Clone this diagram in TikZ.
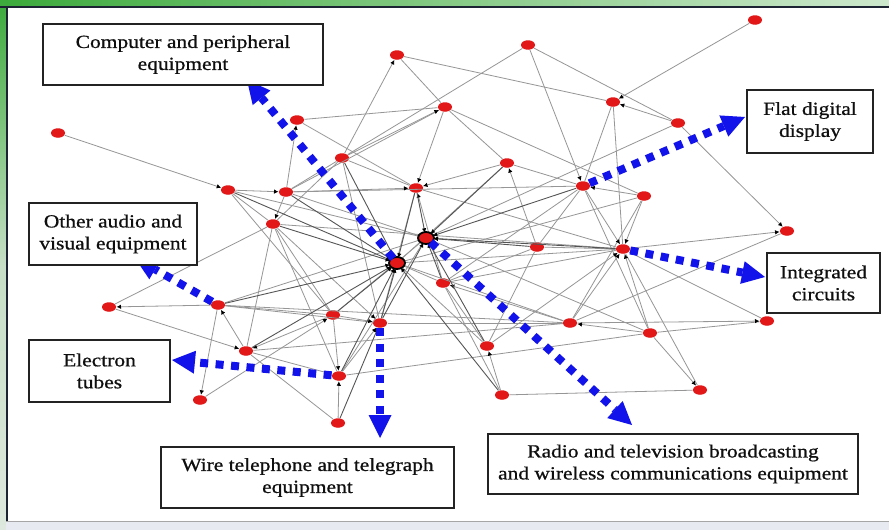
\documentclass[tikz,border=0pt]{standalone}
\usepackage{fontspec}
\setmainfont{Liberation Serif}
\newfontfamily\labelfont{Liberation Serif}[FakeBold=0.7]
\usepackage{graphicx}
\usetikzlibrary{arrows.meta,shapes.geometric}
\newcommand{\widetext}[1]{\scalebox{1.16}[1]{#1}}
\definecolor{nodered}{RGB}{226,24,24}
\definecolor{edgegray}{RGB}{150,150,150}
\definecolor{edgedark}{RGB}{85,85,85}
\definecolor{arrowblue}{RGB}{18,18,235}
\definecolor{framedark}{RGB}{28,36,52}
\definecolor{boxline}{RGB}{35,35,35}
\definecolor{labeltext}{RGB}{15,15,15}
\definecolor{greenA}{RGB}{60,170,60}
\definecolor{greenB}{RGB}{205,232,205}
\definecolor{greenC}{RGB}{222,232,222}
\definecolor{baseband}{RGB}{232,234,242}

\begin{document}
\begin{tikzpicture}[x=1pt,y=-1pt,
  vert/.style={ellipse, fill=nodered, minimum width=14pt, minimum height=9.5pt, inner sep=0pt, outer sep=0.5pt},
  hub/.style={vert, minimum width=16pt, minimum height=12pt, draw=black, line width=1.8pt},
  link/.style={draw=edgegray, line width=0.8pt},
  dlink/.style={link, -{Latex[black,length=4.5pt,width=4.5pt]}},
  klink/.style={draw=edgedark, line width=0.9pt, -{Latex[black,length=4.5pt,width=4.5pt]}},
  callout/.style={draw=arrowblue, line width=8pt, dash pattern=on 8pt off 7.5pt,
    -{Triangle[length=23pt,width=23pt,line width=0pt]}},
  lbl/.style={draw=boxline, line width=1.6pt, fill=white, align=center, text=labeltext,
    inner sep=0pt, font=\labelfont\fontsize{18.5pt}{22pt}\selectfont}
]
% canvas and frame
\useasboundingbox (0,0) rectangle (889,530);
\fill[white] (0,0) rectangle (889,530);
\shade[left color=greenA, right color=greenB] (0,0) rectangle (889,6);
\shade[top color=greenA, bottom color=greenC, middle color=greenC!85!greenA] (0,0) rectangle (6,530);
\fill[baseband] (6,521) rectangle (889,530);
\draw[gray!70, line width=1pt] (6,521) -- (889,521);
\draw[framedark, line width=2pt] (0,6.5) -- (889,6.5);
\draw[framedark, line width=2pt] (6.5,6.5) -- (6.5,521);

% vertices
\node[vert] (n1) at (58,133) {};
\node[vert] (n2) at (397,55) {};
\node[vert] (n3) at (528,45) {};
\node[vert] (n4) at (755,20) {};
\node[vert] (n5) at (445,107) {};
\node[vert] (n6) at (297,120) {};
\node[vert] (n7) at (342,158) {};
\node[vert] (n8) at (613,102) {};
\node[vert] (n9) at (678,123) {};
\node[vert] (n10) at (228,190) {};
\node[vert] (n11) at (286,192) {};
\node[vert] (n12) at (416,188) {};
\node[vert] (n13) at (507,163) {};
\node[vert] (n14) at (583,186) {};
\node[vert] (n15) at (644,196) {};
\node[vert] (n16) at (273,224) {};
\node[vert] (n17) at (426,238) {};
\node[vert] (n18) at (397,263) {};
\node[vert] (n19) at (537,247) {};
\node[vert] (n20) at (623,249) {};
\node[vert] (n21) at (787,231) {};
\node[vert] (n22) at (109,307) {};
\node[vert] (n23) at (218,305) {};
\node[vert] (n24) at (443,283) {};
\node[vert] (n25) at (333,315) {};
\node[vert] (n26) at (380,323) {};
\node[vert] (n27) at (246,351) {};
\node[vert] (n28) at (487,346) {};
\node[vert] (n29) at (570,323) {};
\node[vert] (n30) at (650,333) {};
\node[vert] (n31) at (767,321) {};
\node[vert] (n32) at (339,376) {};
\node[vert] (n33) at (200,400) {};
\node[vert] (n34) at (502,395) {};
\node[vert] (n35) at (700,390) {};
\node[vert] (n36) at (338,423) {};

% links
\foreach \a/\b in {n2/n5, n2/n8, n3/n9, n3/n7, n5/n6, n5/n11, n5/n13, n5/n15, n6/n12,
  n8/n14, n8/n20, n9/n17, n10/n17, n10/n25, n10/n16, n11/n17, n11/n14, n7/n11, n7/n12,
  n7/n16, n7/n26, n12/n20, n13/n18, n13/n14, n14/n24, n14/n19, n15/n18, n16/n25, n16/n20,
  n16/n32, n19/n20, n19/n28, n19/n24, n20/n24, n20/n18, n21/n29, n22/n16, n23/n25,
  n23/n26, n23/n17, n23/n29, n24/n18, n24/n34, n24/n28, n26/n12, n26/n29, n27/n32,
  n27/n29, n28/n18, n29/n18, n30/n17, n31/n20, n31/n30, n32/n30, n34/n35, n35/n20,
  n36/n27, n30/n14, n29/n15, n27/n16, n32/n17, n25/n17}
  \draw[link] (\a) -- (\b);
\foreach \a/\b in {n1/n10, n4/n8, n7/n2, n7/n5, n11/n6, n9/n8, n9/n21, n3/n14, n5/n12,
  n13/n12, n19/n13, n15/n14, n15/n20, n20/n21, n23/n22, n25/n27, n23/n33, n30/n35,
  n36/n32, n29/n31, n11/n16, n27/n23, n16/n26, n25/n26, n32/n26, n29/n20, n28/n20,
  n30/n20, n11/n12, n24/n12, n22/n27, n33/n25, n34/n28, n25/n32, n29/n24, n10/n11,
  n14/n20, n30/n29}
  \draw[dlink] (\a) -- (\b);
\foreach \a/\b in {n26/n18, n32/n18, n25/n18, n12/n17, n24/n17, n28/n17, n7/n18, n11/n18,
  n13/n17, n16/n18, n10/n18, n19/n17, n20/n17, n27/n18, n34/n18, n23/n18, n36/n26,
  n14/n17, n12/n18, n26/n17}
  \draw[klink] (\a) -- (\b);

% the two hubs, outlined on top of their links
\node[hub] at (n17) {};
\node[hub] at (n18) {};

% blue callout arrows
\coordinate (tComp) at (247,80);
\coordinate (tFlat) at (745,117);
\coordinate (tIntg) at (765,277);
\coordinate (tAudio) at (135,258);
\coordinate (tTube) at (172,360);
\coordinate (tWire) at (380,438);
\coordinate (tRadio) at (632,425);
\draw[callout] (n18) -- (tComp);
\draw[callout] (n14) -- (tFlat);
\draw[callout] (n20) -- (tIntg);
\draw[callout] (n23) -- (tAudio);
\draw[callout] (n32) -- (tTube);
\draw[callout] (n26) -- (tWire);
\draw[callout] (n17) -- (tRadio);

% category labels
\node[lbl, minimum width=280pt, minimum height=61pt] (bComp) at (183,54.5)
  {\widetext{Computer and peripheral}\\\widetext{equipment}};
\node[lbl, minimum width=126pt, minimum height=63pt] (bFlat) at (810,121.5)
  {\widetext{Flat digital}\\\widetext{display}};
\node[lbl, minimum width=168pt, minimum height=62pt] (bAudio) at (113,234)
  {\widetext{Other audio and}\\\widetext{visual equipment}};
\node[lbl, minimum width=113pt, minimum height=60pt] (bIntg) at (823.5,283)
  {\widetext{Integrated}\\\widetext{circuits}};
\node[lbl, minimum width=141pt, minimum height=62pt] (bTube) at (99.5,371)
  {\widetext{Electron}\\\widetext{tubes}};
\node[lbl, minimum width=293pt, minimum height=61pt] (bWire) at (307.5,477.5)
  {\widetext{Wire telephone and telegraph}\\\widetext{equipment}};
\node[lbl, minimum width=370pt, minimum height=60pt] (bRadio) at (673,464)
  {\widetext{Radio and television broadcasting}\\\widetext{and wireless communications equipment}};
\end{tikzpicture}
\end{document}
